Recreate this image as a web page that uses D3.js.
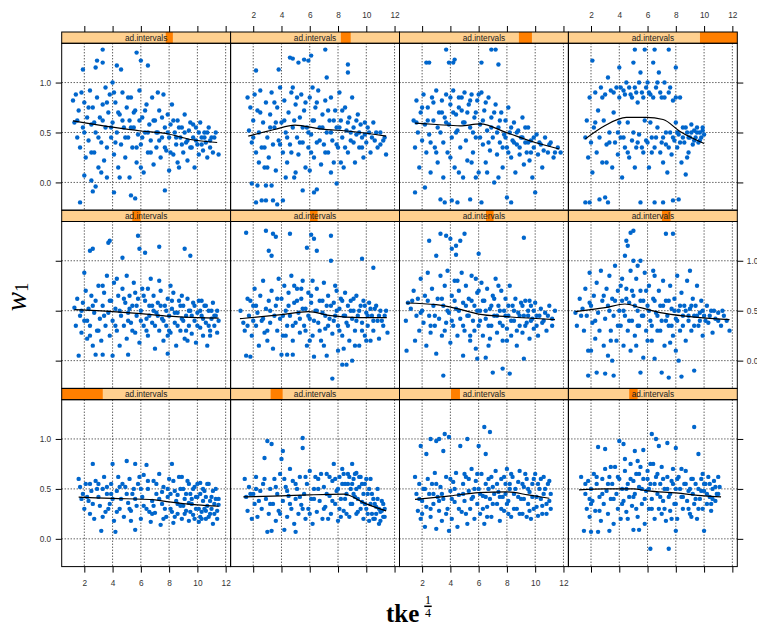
<!DOCTYPE html>
<html>
<head>
<meta charset="utf-8">
<script src="https://cdnjs.cloudflare.com/ajax/libs/d3/7.8.5/d3.min.js"></script>
<style>
body {margin: 0; background: #fff;}
.tick text {font-family: "Liberation Sans", Arial, sans-serif; font-size: 8.3px; fill: #333;}
.tick line {stroke: #000;}
</style>
</head>
<body>
<svg id="chart" width="757" height="630"></svg>
<script>
// lattice order: panel 1 is bottom-left, panel 12 is top-right
var levels = [[0,0.243],[0.237,0.308],[0.305,0.358],[0.36,0.41],
              [0.418,0.468],[0.47,0.515],[0.512,0.557],[0.554,0.605],
              [0.616,0.658],[0.653,0.711],[0.707,0.784],[0.779,1.0]];

var xTicks = [2, 4, 6, 8, 10, 12];
var yTicks = [0, 0.5, 1.0];

// scatter points per panel (p = spread, q = dense core)
var p1 = [[1.6,0.6],[1.7,0.52],[1.9,0.45],[2.0,0.3],[2.1,0.55],[2.3,0.38],[2.4,0.25],[2.5,0.48],[2.6,0.75],[2.7,0.2],[2.8,0.58],[3.0,0.42],[3.1,0.33],[3.2,0.08],[3.3,0.5],[3.4,0.62],[3.5,0.27],[3.6,0.45],[3.8,0.35],[3.9,0.55],[4.0,0.75],[4.1,0.18],[4.2,0.07],[4.3,0.48],[4.4,0.62],[4.5,0.3],[4.6,0.4],[4.8,0.22],[4.9,0.52],[5.0,0.78],[5.1,0.36],[5.2,0.6],[5.3,0.28],[5.4,0.45],[5.6,0.09],[5.6,0.75],[5.7,0.33],[5.8,0.55],[6.0,0.2],[6.1,0.42],[6.2,0.64],[6.4,0.74],[6.4,0.3],[6.5,0.5],[6.7,0.17],[6.8,0.38],[6.9,0.58],[7.0,0.26],[7.1,0.45],[7.3,0.65],[7.4,0.14],[7.5,0.35],[7.6,0.52],[7.8,0.22],[7.9,0.42],[8.0,0.6],[8.1,0.3],[8.2,0.75],[8.3,0.16],[8.4,0.48],[8.5,0.38],[8.6,0.25],[8.7,0.62],[8.8,0.33],[8.9,0.2],[9.0,0.5],[9.1,0.4],[9.2,0.28],[9.3,0.58],[9.4,0.18],[9.5,0.45],[9.6,0.35],[9.7,0.24],[9.8,0.52],[9.9,0.3],[10.0,0.42],[10.1,0.17],[10.2,0.56],[10.3,0.27],[10.4,0.38],[10.5,0.48],[10.6,0.2],[10.7,0.33],[10.8,0.55],[10.9,0.25],[11.0,0.42],[11.1,0.15],[11.2,0.35],[11.3,0.5],[11.4,0.28],[11.5,0.4],[10.2,0.22],[9.4,0.36],[8.6,0.44],[7.7,0.3],[6.6,0.27],[5.5,0.5],[3.7,0.3],[2.9,0.5]];
var q1 = [[2.2,0.42],[2.6,0.35],[3.0,0.55],[3.3,0.22],[3.6,0.52],[4.0,0.4],[4.3,0.27],[4.7,0.55],[5.0,0.45],[5.3,0.18],[5.6,0.4],[5.9,0.62],[6.2,0.33],[6.5,0.58],[6.8,0.25],[7.1,0.55],[7.3,0.4],[7.6,0.2],[7.9,0.5],[8.1,0.45],[8.3,0.58],[8.4,0.22],[8.6,0.35],[8.8,0.5],[8.9,0.62],[9.1,0.25],[9.2,0.45],[9.4,0.55],[9.5,0.27],[9.6,0.4],[9.8,0.2],[9.9,0.42],[10.0,0.55],[10.1,0.3],[10.2,0.45],[10.3,0.2],[10.4,0.5],[10.5,0.3],[10.6,0.42],[10.7,0.55],[10.8,0.22],[10.9,0.38],[11.0,0.3],[11.1,0.48],[11.2,0.25],[11.3,0.4],[11.4,0.2],[11.5,0.34],[10.6,0.28],[9.7,0.5],[9.0,0.33],[8.2,0.27],[7.5,0.47],[6.9,0.33],[6.0,0.5],[5.2,0.3],[4.5,0.52],[3.9,0.45],[2.4,0.55],[1.8,0.4]];
var p2 = [[1.4,0.6],[1.5,0.42],[1.6,0.28],[1.7,0.52],[1.9,0.2],[2.0,0.45],[2.1,0.35],[2.2,0.62],[2.3,0.22],[2.5,0.48],[2.6,0.3],[2.7,0.55],[2.8,0.81],[2.9,0.4],[3.0,0.98],[3.0,0.07],[3.1,0.25],[3.2,0.5],[3.3,0.95],[3.3,0.08],[3.4,0.35],[3.5,0.6],[3.6,0.18],[3.7,0.45],[3.8,0.28],[3.9,0.65],[4.0,0.8],[4.1,0.88],[4.1,0.38],[4.2,0.09],[4.3,0.52],[4.4,0.22],[4.5,0.43],[4.6,0.7],[4.7,0.3],[4.8,0.58],[4.9,0.15],[5.0,0.07],[5.0,0.4],[5.1,0.5],[5.2,0.25],[5.3,0.62],[5.4,0.34],[5.5,1.01],[5.5,0.91],[5.6,0.45],[5.7,0.2],[5.8,0.55],[5.9,0.3],[6.0,0.68],[6.1,0.4],[6.2,0.15],[6.3,0.5],[6.5,0.27],[6.6,0.6],[6.7,0.38],[6.9,0.2],[7.0,0.52],[7.1,0.32],[7.2,0.65],[7.4,0.43],[7.5,0.25],[7.6,0.58],[7.7,0.75],[7.8,0.35],[7.9,0.48],[8.0,0.18],[8.1,0.62],[8.2,0.4],[8.3,0.7],[8.4,0.28],[8.5,0.55],[8.6,0.45],[8.7,0.65],[8.8,0.22],[8.9,0.5],[9.0,0.75],[9.0,0.35],[9.1,0.6],[9.2,0.42],[9.3,0.66],[9.4,0.27],[9.5,0.52],[9.6,0.62],[9.7,0.37],[9.8,0.2],[9.9,0.55],[10.0,0.3],[10.1,0.45],[10.2,0.18],[10.3,0.6],[10.4,0.25],[10.5,0.4],[10.6,0.2],[10.7,0.32],[10.8,0.5],[10.9,0.15],[11.0,0.27],[11.1,0.38],[11.2,0.22],[11.3,0.3]];
var q2 = [[1.8,0.45],[2.4,0.38],[2.8,0.6],[3.2,0.35],[3.6,0.52],[3.9,0.25],[4.2,0.6],[4.6,0.35],[5.0,0.55],[5.3,0.42],[5.7,0.62],[6.0,0.25],[6.3,0.4],[6.6,0.5],[6.8,0.65],[7.0,0.3],[7.2,0.45],[7.4,0.62],[7.6,0.38],[7.8,0.6],[8.0,0.5],[8.1,0.3],[8.3,0.55],[8.4,0.65],[8.5,0.4],[8.6,0.25],[8.7,0.55],[8.8,0.62],[8.9,0.35],[9.0,0.55],[9.1,0.45],[9.2,0.65],[9.3,0.5],[9.4,0.4],[9.5,0.62],[9.6,0.3],[9.7,0.55],[9.8,0.45],[9.9,0.35],[10.0,0.6],[10.1,0.25],[10.2,0.5],[10.3,0.35],[10.4,0.45],[10.5,0.2],[10.6,0.35],[10.7,0.25],[10.8,0.4],[10.9,0.3],[11.0,0.18],[11.1,0.28],[11.2,0.35],[11.3,0.22],[9.3,0.25],[8.2,0.22],[7.3,0.2],[6.4,0.62],[5.5,0.3],[4.4,0.48],[2.2,0.5]];
var p3 = [[1.5,0.62],[1.6,0.45],[1.7,0.28],[1.8,0.55],[1.9,0.93],[1.9,0.2],[2.0,0.38],[2.1,0.5],[2.2,0.12],[2.3,0.85],[2.3,0.32],[2.4,0.6],[2.5,0.45],[2.6,1.0],[2.6,0.22],[2.7,0.55],[2.8,0.35],[2.9,0.66],[3.0,0.98],[3.0,0.1],[3.1,0.42],[3.2,1.0],[3.2,0.28],[3.3,0.52],[3.4,0.18],[3.5,0.88],[3.5,0.4],[3.6,1.05],[3.7,0.62],[3.8,0.3],[3.9,1.02],[3.9,0.08],[4.0,0.48],[4.1,0.2],[4.2,0.57],[4.3,0.37],[4.4,0.66],[4.5,0.12],[4.6,0.44],[4.7,0.93],[4.8,0.27],[4.9,0.55],[5.0,0.38],[5.1,0.62],[5.2,1.0],[5.2,0.15],[5.3,0.48],[5.4,0.3],[5.5,0.7],[5.6,0.42],[5.7,0.2],[5.8,0.58],[5.9,0.35],[6.0,0.93],[6.0,0.5],[6.1,0.25],[6.2,0.65],[6.3,0.43],[6.4,1.12],[6.4,0.15],[6.5,0.85],[6.5,0.55],[6.6,0.32],[6.7,0.6],[6.8,1.07],[6.8,0.4],[6.9,0.22],[7.0,0.52],[7.2,0.68],[7.3,0.35],[7.4,0.47],[7.5,0.18],[7.6,0.6],[7.7,0.42],[7.8,0.28],[7.9,0.55],[8.0,0.7],[8.1,0.38],[8.2,0.5],[8.3,0.22],[8.4,0.62],[8.5,0.45],[8.7,0.3],[8.8,0.57],[8.9,0.68],[9.0,0.4],[9.1,0.25],[9.2,0.52],[9.4,0.6],[9.5,0.35],[9.6,0.47],[9.7,0.2],[9.8,0.55],[9.9,0.3],[10.0,0.65],[10.1,0.42],[10.2,0.23],[10.3,0.5],[10.4,0.6],[10.5,0.33],[10.6,0.45],[10.8,0.25],[10.9,0.55],[11.0,0.38],[11.1,0.45]];
var q3 = [[1.8,0.4],[2.2,0.5],[2.6,0.3],[3.0,0.55],[3.4,0.45],[3.7,0.25],[4.0,0.6],[4.3,0.5],[4.6,0.3],[4.9,0.45],[5.1,0.25],[5.3,0.6],[5.5,0.4],[5.7,0.5],[5.9,0.65],[6.1,0.45],[6.3,0.3],[6.5,0.42],[6.7,0.5],[6.9,0.62],[7.0,0.35],[7.1,0.45],[7.3,0.55],[7.5,0.42],[7.6,0.3],[7.8,0.62],[7.9,0.45],[8.0,0.35],[8.2,0.55],[8.3,0.65],[8.5,0.3],[8.6,0.5],[8.8,0.42],[8.9,0.25],[9.1,0.55],[9.2,0.4],[9.3,0.65],[9.5,0.5],[9.6,0.28],[9.8,0.42],[9.9,0.6],[10.1,0.32],[10.2,0.55],[10.4,0.4],[10.5,0.25],[10.7,0.5],[10.8,0.35],[11.0,0.58],[11.1,0.3],[10.6,0.62],[9.4,0.22],[8.1,0.25],[6.6,0.22],[5.0,0.65],[4.1,0.4],[3.2,0.38],[2.0,0.25],[2.8,0.45]];
var p4 = [[1.3,0.62],[1.5,0.08],[1.6,0.45],[1.7,0.3],[1.8,0.58],[1.9,0.22],[2.0,0.07],[2.0,0.5],[2.1,0.38],[2.2,0.65],[2.3,0.28],[2.4,0.55],[2.5,0.92],[2.5,0.07],[2.6,0.42],[2.7,0.18],[2.8,0.6],[2.9,0.35],[3.0,0.9],[3.0,0.7],[3.1,0.48],[3.2,0.25],[3.3,0.08],[3.3,0.62],[3.4,0.4],[3.5,0.55],[3.6,0.15],[3.7,0.72],[3.8,0.45],[3.9,0.3],[4.0,0.98],[4.0,0.6],[4.1,0.2],[4.2,0.5],[4.3,0.95],[4.3,0.38],[4.4,0.68],[4.5,0.27],[4.6,0.55],[4.7,0.42],[4.8,0.75],[4.9,0.33],[5.0,0.09],[5.0,0.58],[5.1,0.88],[5.1,0.45],[5.2,0.65],[5.3,0.22],[5.4,0.09],[5.4,0.52],[5.5,0.72],[5.6,0.35],[5.7,0.89],[5.7,0.6],[5.8,0.15],[5.9,0.48],[6.0,0.68],[6.1,0.3],[6.2,-0.1],[6.2,0.55],[6.3,1.05],[6.3,0.4],[6.4,0.75],[6.5,0.2],[6.6,1.0],[6.6,0.62],[6.7,0.45],[6.8,0.93],[6.8,0.3],[6.9,0.55],[7.0,0.72],[7.1,0.38],[7.2,0.5],[7.3,0.18],[7.4,0.96],[7.4,0.62],[7.5,-0.1],[7.5,0.42],[7.6,0.28],[7.7,0.58],[7.8,0.7],[7.9,0.35],[8.0,0.91],[8.0,0.08],[8.0,0.5],[8.1,0.2],[8.2,0.62],[8.4,0.42],[8.5,0.3],[8.6,0.55],[8.7,0.68],[8.8,0.38],[8.9,0.48],[9.0,0.25],[9.1,0.6],[9.2,0.45],[9.3,1.12],[9.3,0.35],[9.4,0.55],[9.5,0.2],[9.6,0.85],[9.6,0.5],[9.7,0.4],[9.8,0.6],[9.9,0.3],[10.0,0.08],[10.0,0.48],[10.1,0.55],[10.2,0.35],[10.3,0.62],[10.4,0.42],[10.5,0.28],[10.6,0.5],[10.7,0.58],[10.8,0.38],[10.9,0.45],[11.0,0.62],[11.1,0.52]];
var q4 = [[1.6,0.55],[2.0,0.35],[2.4,0.62],[2.8,0.45],[3.2,0.55],[3.6,0.4],[3.9,0.62],[4.2,0.35],[4.5,0.5],[4.8,0.6],[5.0,0.42],[5.2,0.3],[5.4,0.65],[5.6,0.5],[5.8,0.4],[6.0,0.6],[6.1,0.5],[6.3,0.3],[6.5,0.55],[6.7,0.65],[6.9,0.42],[7.1,0.6],[7.2,0.3],[7.4,0.5],[7.6,0.45],[7.8,0.55],[8.0,0.35],[8.1,0.6],[8.3,0.5],[8.5,0.42],[8.7,0.55],[8.9,0.3],[9.0,0.5],[9.2,0.6],[9.4,0.4],[9.6,0.3],[9.8,0.48],[10.0,0.55],[10.2,0.45],[10.4,0.55],[10.6,0.4],[10.8,0.52],[11.0,0.45],[10.5,0.35],[9.9,0.65],[8.4,0.7],[7.0,0.25],[6.2,0.75],[5.3,0.78],[4.4,0.8],[3.4,0.72],[2.6,0.28],[1.9,0.4],[4.6,0.2],[7.7,0.2],[9.1,0.22]];
var p5 = [[1.3,0.53],[1.4,0.35],[1.5,0.62],[1.6,0.05],[1.7,0.45],[1.8,0.28],[1.9,0.58],[2.0,0.88],[2.0,0.4],[2.1,0.7],[2.2,0.22],[2.3,0.52],[2.4,1.1],[2.4,0.35],[2.5,0.65],[2.6,1.12],[2.6,0.15],[2.7,0.48],[2.8,0.06],[2.8,0.6],[2.9,0.3],[3.0,0.75],[3.1,0.42],[3.2,0.2],[3.3,0.06],[3.3,0.55],[3.4,0.68],[3.5,0.35],[3.6,0.85],[3.7,1.18],[3.7,0.48],[3.8,1.2],[3.8,0.25],[3.9,0.6],[4.0,0.05],[4.0,0.4],[4.1,0.78],[4.2,0.52],[4.3,0.3],[4.4,0.65],[4.5,0.15],[4.6,0.45],[4.7,1.03],[4.7,0.72],[4.8,0.35],[4.9,0.58],[5.0,0.85],[5.0,0.22],[5.1,0.06],[5.1,0.48],[5.2,0.65],[5.3,0.38],[5.4,0.55],[5.5,0.78],[5.6,0.28],[5.7,0.45],[5.8,1.25],[5.8,0.62],[5.9,1.12],[5.9,0.18],[6.0,0.5],[6.1,0.72],[6.2,0.35],[6.3,1.08],[6.3,0.6],[6.4,0.42],[6.5,0.25],[6.6,0.55],[6.7,0.82],[6.8,0.38],[6.9,0.65],[7.0,0.12],[7.1,0.48],[7.2,0.58],[7.3,1.14],[7.3,0.3],[7.4,0.7],[7.5,0.42],[7.6,0.2],[7.7,0.55],[7.8,0.35],[7.9,0.07],[7.9,0.62],[8.0,0.45],[8.1,0.28],[8.2,0.52],[8.3,0.68],[8.4,0.38],[8.5,0.15],[8.6,0.48],[8.7,0.6],[8.8,0.3],[8.9,0.42],[9.0,0.55],[9.1,1.12],[9.1,0.22],[9.2,0.45],[9.3,0.62],[9.4,0.35],[9.5,1.05],[9.5,0.5],[9.6,0.27],[9.7,0.58],[9.8,0.4],[9.9,0.18],[10.0,0.48],[10.1,0.6],[10.2,0.33],[10.3,0.45],[10.4,0.25],[10.5,0.55],[10.6,0.38],[10.7,0.15],[10.8,0.5],[10.9,0.3],[11.0,0.42],[11.1,0.58],[11.2,0.35],[11.3,0.45],[11.4,0.28],[11.5,0.4]];
var q5 = [[1.8,0.5],[2.2,0.4],[2.6,0.55],[3.0,0.3],[3.4,0.45],[3.8,0.6],[4.2,0.35],[4.5,0.5],[4.8,0.62],[5.1,0.4],[5.4,0.3],[5.7,0.55],[6.0,0.4],[6.2,0.65],[6.4,0.3],[6.6,0.45],[6.8,0.55],[7.0,0.35],[7.2,0.45],[7.4,0.55],[7.6,0.4],[7.8,0.5],[8.0,0.3],[8.2,0.6],[8.4,0.48],[8.6,0.35],[8.8,0.55],[9.0,0.4],[9.2,0.3],[9.4,0.5],[9.6,0.45],[9.8,0.55],[10.0,0.35],[10.2,0.5],[10.4,0.42],[10.6,0.55],[10.8,0.35],[11.0,0.5],[11.2,0.45],[11.4,0.5],[10.3,0.6],[9.3,0.2],[8.1,0.75],[7.3,0.8],[6.5,0.72],[5.6,0.68],[4.3,0.82],[3.3,0.75],[2.4,0.25],[7.9,0.25],[8.9,0.65],[10.9,0.25],[6.9,0.5],[5.2,0.52]];
var p6 = [[1.1,0.5],[1.3,0.38],[1.4,0.3],[1.5,1.28],[1.5,0.05],[1.6,0.62],[1.7,0.45],[1.8,0.04],[1.8,0.6],[1.9,0.25],[2.0,0.55],[2.1,0.72],[2.2,0.35],[2.3,0.48],[2.4,0.15],[2.5,0.65],[2.6,0.4],[2.7,0.8],[2.8,0.28],[2.9,1.3],[2.9,0.52],[3.0,0.2],[3.1,1.1],[3.1,0.6],[3.2,0.38],[3.3,1.05],[3.3,0.7],[3.4,1.27],[3.4,0.12],[3.5,0.45],[3.6,1.24],[3.6,0.55],[3.7,0.3],[3.8,0.82],[3.9,0.42],[4.0,0.06],[4.0,0.62],[4.1,0.25],[4.2,0.75],[4.3,0.5],[4.4,0.06],[4.4,0.35],[4.5,0.68],[4.6,1.27],[4.6,0.45],[4.7,0.85],[4.8,0.06],[4.8,0.2],[4.9,0.58],[5.0,0.38],[5.1,0.72],[5.2,0.48],[5.3,0.28],[5.4,0.62],[5.5,0.8],[5.6,0.35],[5.7,0.52],[5.8,1.13],[5.8,0.15],[5.9,0.68],[6.0,0.42],[6.1,1.26],[6.1,0.58],[6.2,0.25],[6.3,1.22],[6.3,0.04],[6.4,0.5],[6.5,1.1],[6.5,0.72],[6.6,0.38],[6.7,0.6],[6.8,0.2],[6.9,0.48],[7.0,0.78],[7.1,0.32],[7.2,0.05],[7.2,0.55],[7.3,0.65],[7.4,0.42],[7.5,1.25],[7.5,1.0],[7.6,-0.18],[7.6,0.27],[7.7,0.58],[7.8,0.45],[7.9,0.7],[8.0,0.1],[8.0,0.35],[8.1,0.52],[8.2,0.62],[8.3,-0.04],[8.3,0.25],[8.4,0.45],[8.5,0.68],[8.6,-0.04],[8.6,0.38],[8.7,0.55],[8.8,0.2],[8.9,0.6],[9.0,0.0],[9.0,0.42],[9.1,0.5],[9.2,0.3],[9.3,0.65],[9.4,0.45],[9.5,0.15],[9.6,0.55],[9.7,1.02],[9.7,0.38],[9.8,0.6],[9.9,0.25],[10.0,0.48],[10.1,0.35],[10.2,0.58],[10.3,0.2],[10.4,0.45],[10.5,0.93],[10.5,0.3],[10.6,0.52],[10.8,0.4],[10.9,0.22],[11.0,0.5],[11.2,0.35],[11.3,0.45],[11.5,0.28]];
var q6 = [[1.6,0.35],[2.2,0.55],[2.7,0.42],[3.2,0.5],[3.7,0.62],[4.1,0.45],[4.5,0.55],[4.8,0.35],[5.1,0.6],[5.3,0.42],[5.5,0.52],[5.7,0.3],[5.9,0.45],[6.1,0.65],[6.3,0.4],[6.5,0.5],[6.7,0.3],[6.9,0.6],[7.1,0.45],[7.3,0.35],[7.5,0.55],[7.7,0.4],[7.9,0.5],[8.1,0.3],[8.3,0.6],[8.5,0.45],[8.7,0.35],[8.9,0.5],[9.1,0.62],[9.3,0.4],[9.5,0.5],[9.7,0.3],[9.9,0.55],[10.1,0.45],[10.3,0.52],[10.5,0.4],[10.7,0.55],[10.9,0.45],[11.1,0.4],[11.4,0.5],[10.0,0.2],[9.2,0.15],[8.4,0.12],[7.0,0.15],[6.0,0.2],[5.4,0.72],[4.9,0.75],[6.2,0.8],[7.8,0.75],[3.0,0.3],[2.0,0.4],[4.3,0.25]];
var p7 = [[0.85,0.4],[0.9,0.1],[1.0,0.58],[1.2,0.52],[1.4,0.7],[1.5,0.2],[1.6,0.45],[1.7,0.62],[1.8,0.3],[1.9,0.82],[2.0,0.5],[2.1,0.38],[2.2,0.65],[2.3,0.15],[2.4,0.88],[2.5,1.2],[2.5,0.45],[2.6,0.28],[2.7,0.72],[2.8,0.55],[2.9,0.35],[3.0,1.05],[3.0,0.07],[3.1,0.62],[3.2,0.42],[3.3,1.27],[3.3,0.85],[3.4,0.25],[3.5,-0.15],[3.5,0.55],[3.6,0.75],[3.7,1.25],[3.7,0.38],[3.8,0.9],[3.9,0.48],[4.0,1.22],[4.0,0.18],[4.1,1.12],[4.1,0.65],[4.2,0.35],[4.3,0.8],[4.4,1.15],[4.4,1.06],[4.4,0.52],[4.5,0.25],[4.6,0.7],[4.7,1.2],[4.7,0.42],[4.8,0.88],[4.9,0.05],[4.9,0.58],[5.0,1.27],[5.0,0.3],[5.1,0.75],[5.2,0.45],[5.3,0.62],[5.4,0.2],[5.5,0.85],[5.6,0.4],[5.7,0.55],[5.8,0.12],[5.9,0.02],[5.9,0.68],[6.0,1.07],[6.0,0.35],[6.1,0.5],[6.2,0.78],[6.3,0.25],[6.4,0.6],[6.5,0.03],[6.5,0.42],[6.6,0.72],[6.7,0.15],[6.8,0.52],[6.9,0.35],[7.0,-0.12],[7.0,0.65],[7.1,0.45],[7.2,0.82],[7.3,0.28],[7.4,0.55],[7.5,0.38],[7.6,0.7],[7.7,-0.08],[7.7,0.2],[7.8,0.5],[7.9,0.62],[8.0,0.32],[8.1,0.45],[8.2,-0.13],[8.2,0.75],[8.3,0.25],[8.4,0.55],[8.5,0.4],[8.6,0.62],[8.7,0.15],[8.8,0.48],[8.9,0.35],[9.0,0.58],[9.1,0.28],[9.2,1.23],[9.2,0.02],[9.2,0.45],[9.3,0.6],[9.4,0.38],[9.5,0.5],[9.6,0.22],[9.7,0.55],[9.8,0.42],[9.9,0.32],[10.0,0.58],[10.1,0.45],[10.2,0.25],[10.4,0.52],[10.5,0.38],[10.7,0.48],[10.8,0.3],[11.0,0.55],[11.2,0.42],[11.4,0.5]];
var q7 = [[1.3,0.6],[1.9,0.48],[2.4,0.6],[2.9,0.45],[3.4,0.62],[3.8,0.5],[4.1,0.4],[4.3,0.6],[4.6,0.5],[4.9,0.35],[5.1,0.55],[5.3,0.45],[5.5,0.6],[5.7,0.3],[5.9,0.5],[6.1,0.4],[6.3,0.6],[6.5,0.5],[6.7,0.35],[6.9,0.55],[7.1,0.62],[7.3,0.45],[7.5,0.5],[7.7,0.35],[7.9,0.45],[8.1,0.55],[8.3,0.4],[8.5,0.5],[8.7,0.3],[8.9,0.45],[9.1,0.55],[9.3,0.35],[9.5,0.45],[9.7,0.4],[9.9,0.5],[10.1,0.35],[10.3,0.45],[10.6,0.4],[10.9,0.45],[11.2,0.35],[8.0,0.2],[6.8,0.22],[5.4,0.25],[4.5,0.8],[5.8,0.82],[7.4,0.75],[3.6,0.3],[2.6,0.35],[9.6,0.6],[6.0,0.7]];
var p8 = [[0.9,0.48],[1.0,0.35],[1.2,0.62],[1.4,0.52],[1.5,0.3],[1.6,0.72],[1.7,0.45],[1.8,-0.15],[1.8,0.1],[1.9,0.88],[2.0,0.1],[2.0,0.55],[2.1,0.38],[2.2,0.65],[2.3,0.22],[2.4,-0.12],[2.4,0.78],[2.5,0.48],[2.6,0.3],[2.7,0.9],[2.8,0.6],[2.9,0.15],[3.0,-0.13],[3.0,0.42],[3.1,0.72],[3.2,0.05],[3.2,0.55],[3.3,0.85],[3.4,0.3],[3.5,0.0],[3.5,0.62],[3.6,-0.15],[3.6,0.45],[3.7,0.95],[3.8,0.2],[3.9,0.7],[4.0,0.5],[4.1,0.35],[4.2,0.82],[4.2,0.6],[4.3,0.15],[4.4,1.05],[4.4,0.45],[4.5,1.2],[4.5,0.72],[4.6,1.15],[4.6,0.3],[4.7,0.58],[4.8,1.28],[4.8,0.9],[4.9,0.4],[5.0,1.3],[5.0,1.0],[5.0,0.65],[5.1,0.25],[5.2,0.82],[5.3,0.5],[5.4,0.35],[5.5,1.0],[5.5,-0.12],[5.5,0.7],[5.6,0.45],[5.7,0.03],[5.7,0.6],[5.8,0.88],[5.9,0.3],[6.0,0.55],[6.1,0.75],[6.2,0.4],[6.3,0.2],[6.4,0.62],[6.5,0.02],[6.5,0.85],[6.6,0.48],[6.7,0.3],[6.8,0.7],[6.9,0.55],[7.0,-0.12],[7.0,0.4],[7.1,0.8],[7.2,0.15],[7.3,1.27],[7.3,0.6],[7.4,0.45],[7.5,-0.17],[7.5,0.35],[7.6,0.75],[7.7,0.52],[7.8,1.27],[7.8,0.25],[7.9,0.62],[8.0,0.42],[8.1,0.85],[8.2,0.0],[8.2,0.5],[8.3,0.3],[8.4,-0.16],[8.4,0.68],[8.5,0.45],[8.6,0.55],[8.7,0.2],[8.8,0.8],[8.9,0.4],[9.0,0.9],[9.0,0.52],[9.1,0.3],[9.2,0.62],[9.3,-0.1],[9.3,0.45],[9.4,0.55],[9.5,0.75],[9.6,0.35],[9.7,0.48],[9.8,0.6],[9.9,0.25],[10.0,0.45],[10.2,0.55],[10.3,0.38],[10.5,0.5],[10.6,0.28],[10.8,0.42],[11.0,0.48],[11.2,0.35],[11.4,0.45],[11.6,0.4],[11.8,0.3]];
var q8 = [[1.3,0.45],[1.9,0.58],[2.3,0.4],[2.9,0.65],[3.3,0.5],[3.7,0.6],[3.9,0.35],[4.1,0.75],[4.3,0.5],[4.5,0.62],[4.7,0.4],[4.9,0.7],[5.1,0.55],[5.3,0.35],[5.5,0.6],[5.7,0.45],[5.9,0.7],[6.1,0.5],[6.3,0.35],[6.5,0.6],[6.7,0.45],[6.9,0.3],[7.1,0.55],[7.3,0.4],[7.5,0.6],[7.7,0.35],[7.9,0.5],[8.1,0.4],[8.3,0.55],[8.5,0.35],[8.7,0.5],[8.9,0.45],[9.1,0.55],[9.3,0.35],[9.5,0.45],[9.7,0.4],[9.9,0.5],[10.1,0.4],[10.4,0.45],[10.7,0.5],[11.0,0.4],[11.3,0.5],[5.2,0.15],[6.0,0.2],[7.6,0.18],[8.0,0.1],[4.8,0.1],[3.4,0.2],[6.4,0.9],[5.3,0.95]];
var p9 = [[1.2,0.82],[1.3,0.6],[1.4,0.88],[1.5,0.45],[1.6,0.72],[1.7,-0.2],[1.7,0.35],[1.8,0.9],[1.9,1.13],[1.9,0.55],[2.0,0.07],[2.0,0.8],[2.1,0.25],[2.2,0.65],[2.3,0.42],[2.4,0.92],[2.5,0.02],[2.5,0.58],[2.6,-0.09],[2.6,0.75],[2.7,0.3],[2.8,1.15],[2.8,-0.04],[2.8,0.5],[2.9,1.22],[2.9,0.85],[3.0,0.15],[3.1,0.65],[3.2,0.4],[3.3,1.33],[3.3,1.2],[3.3,0.78],[3.4,0.22],[3.5,0.95],[3.5,0.55],[3.6,0.05],[3.6,0.35],[3.7,0.7],[3.8,0.88],[3.9,0.45],[4.0,1.0],[4.0,0.6],[4.1,-0.1],[4.1,0.28],[4.2,0.8],[4.3,1.17],[4.3,0.5],[4.4,0.15],[4.5,0.68],[4.6,1.13],[4.6,0.38],[4.7,0.9],[4.8,0.55],[4.9,0.25],[5.0,0.75],[5.1,0.45],[5.2,0.05],[5.2,0.62],[5.3,-0.13],[5.3,0.85],[5.4,0.35],[5.5,0.55],[5.6,-0.16],[5.6,0.72],[5.7,1.3],[5.7,0.2],[5.8,0.48],[5.9,0.92],[6.0,1.22],[6.0,0.38],[6.1,0.65],[6.2,0.1],[6.3,0.5],[6.4,0.78],[6.5,1.17],[6.5,0.3],[6.6,0.58],[6.7,0.42],[6.8,0.85],[6.9,0.18],[7.0,0.62],[7.1,0.35],[7.2,0.5],[7.3,0.72],[7.4,0.25],[7.5,0.45],[7.6,0.88],[7.7,-0.08],[7.7,0.55],[7.8,0.32],[7.9,0.68],[8.0,0.12],[8.0,0.45],[8.1,0.58],[8.2,0.78],[8.3,0.28],[8.4,0.5],[8.5,0.38],[8.6,0.62],[8.7,0.15],[8.8,0.45],[8.9,0.55],[9.0,0.3],[9.1,0.68],[9.2,0.4],[9.3,0.22],[9.4,0.52],[9.5,0.6],[9.6,0.35],[9.7,0.45],[9.8,0.15],[9.9,0.55],[10.0,0.38],[10.1,0.28],[10.2,0.6],[10.3,0.45],[10.4,0.32],[10.5,0.5],[10.6,0.4],[10.7,0.25],[10.8,0.55],[10.9,0.35],[11.0,0.45],[11.1,0.3],[11.3,0.5],[11.5,0.28]];
var q9 = [[1.5,0.62],[2.0,0.5],[2.3,0.75],[2.7,0.6],[3.0,0.45],[3.3,0.62],[3.6,0.8],[3.9,0.55],[4.2,0.4],[4.4,0.7],[4.7,0.62],[4.9,0.45],[5.1,0.85],[5.3,0.55],[5.5,0.7],[5.7,0.35],[5.9,0.62],[6.1,0.45],[6.3,0.72],[6.5,0.5],[6.7,0.3],[6.9,0.62],[7.1,0.5],[7.3,0.42],[7.5,0.65],[7.7,0.35],[7.9,0.5],[8.1,0.3],[8.3,0.62],[8.5,0.45],[8.7,0.55],[8.9,0.38],[9.1,0.5],[9.3,0.42],[9.5,0.35],[9.7,0.58],[9.9,0.42],[10.1,0.5],[10.3,0.38],[10.5,0.45],[10.7,0.5],[10.9,0.42],[11.2,0.45],[6.0,0.15],[4.5,0.05],[3.2,0.1],[7.2,0.9],[4.1,0.9],[8.6,0.2],[2.5,0.3]];
var p10 = [[1.6,0.85],[1.7,0.52],[1.8,0.75],[1.9,-0.01],[1.9,0.4],[2.0,0.62],[2.1,0.88],[2.2,1.12],[2.2,-0.2],[2.2,0.3],[2.3,-0.03],[2.3,0.72],[2.4,0.5],[2.5,0.92],[2.6,-0.18],[2.6,0.35],[2.7,0.6],[2.8,0.15],[2.9,-0.18],[2.9,-0.03],[2.9,0.8],[3.0,0.45],[3.1,0.25],[3.2,0.68],[3.3,-0.03],[3.3,0.9],[3.4,-0.18],[3.4,0.38],[3.5,0.55],[3.6,0.12],[3.7,-0.22],[3.7,0.75],[3.8,1.13],[3.8,0.42],[3.9,0.95],[4.0,0.6],[4.1,-0.18],[4.1,0.3],[4.2,0.82],[4.3,0.5],[4.4,0.2],[4.5,0.7],[4.6,1.25],[4.6,0.38],[4.7,0.9],[4.8,1.24],[4.8,0.55],[4.9,0.05],[5.0,0.78],[5.1,0.45],[5.2,1.2],[5.2,0.28],[5.3,0.65],[5.4,0.88],[5.5,-0.08],[5.5,0.4],[5.6,1.23],[5.6,0.72],[5.7,0.15],[5.8,0.55],[5.9,1.22],[5.9,0.35],[6.0,0.85],[6.1,1.27],[6.1,0.48],[6.2,0.62],[6.3,-0.1],[6.3,0.25],[6.4,0.75],[6.5,-0.07],[6.5,0.4],[6.6,0.92],[6.7,0.55],[6.8,0.18],[6.9,0.68],[7.0,0.38],[7.1,1.33],[7.1,0.82],[7.2,1.05],[7.2,0.5],[7.3,0.3],[7.4,0.62],[7.5,0.85],[7.6,0.42],[7.7,0.2],[7.8,0.72],[7.9,-0.01],[7.9,0.55],[8.0,0.35],[8.1,0.9],[8.2,0.62],[8.3,0.45],[8.4,0.15],[8.5,0.75],[8.6,0.52],[8.7,1.18],[8.7,1.1],[8.7,0.3],[8.8,0.65],[8.9,0.42],[9.0,0.85],[9.1,0.55],[9.2,0.2],[9.3,0.48],[9.4,0.68],[9.5,0.35],[9.6,0.58],[9.7,0.45],[9.8,0.25],[9.9,0.6],[10.0,0.4],[10.2,0.5],[10.3,0.3],[10.5,0.6],[10.6,0.42],[10.8,0.35],[11.0,0.5],[11.2,0.42],[11.4,0.28]];
var q10 = [[2.0,0.45],[2.5,0.7],[2.8,0.35],[3.2,0.55],[3.5,0.8],[3.9,0.38],[4.2,0.62],[4.4,0.45],[4.7,0.3],[4.9,0.62],[5.1,0.85],[5.3,0.4],[5.5,0.55],[5.7,0.8],[5.9,0.5],[6.1,0.3],[6.3,0.62],[6.5,0.8],[6.7,0.42],[6.9,0.55],[7.1,0.3],[7.3,0.72],[7.5,0.5],[7.7,0.62],[7.9,0.38],[8.1,0.55],[8.3,0.72],[8.5,0.35],[8.7,0.6],[8.9,0.5],[9.1,0.4],[9.3,0.62],[9.5,0.5],[9.7,0.35],[9.9,0.48],[10.1,0.55],[10.4,0.45],[10.7,0.5],[11.0,0.38],[11.3,0.45],[6.0,0.12],[5.0,0.1],[4.3,0.05],[3.0,0.15],[7.5,0.1],[8.2,0.2],[6.2,0.95],[4.8,0.95],[3.6,0.6],[2.4,0.2]];
var p11 = [[1.4,0.62],[1.5,-0.1],[1.5,0.35],[1.6,0.82],[1.7,0.5],[1.8,0.15],[1.9,0.7],[2.0,0.42],[2.1,0.88],[2.2,-0.05],[2.2,0.58],[2.3,1.2],[2.3,0.3],[2.4,0.75],[2.5,1.2],[2.5,0.48],[2.6,0.1],[2.7,0.85],[2.8,0.62],[2.9,0.35],[3.0,0.92],[3.1,0.2],[3.2,0.7],[3.3,-0.17],[3.3,0.5],[3.4,0.82],[3.5,0.05],[3.5,0.4],[3.6,-0.2],[3.6,0.65],[3.7,1.33],[3.7,0.88],[3.8,0.3],[3.9,1.2],[3.9,0.58],[4.0,0.78],[4.1,-0.18],[4.1,0.45],[4.2,1.2],[4.2,0.92],[4.3,1.23],[4.3,0.15],[4.4,0.68],[4.5,-0.2],[4.5,0.52],[4.6,0.85],[4.7,0.35],[4.8,0.72],[4.9,0.05],[4.9,0.6],[5.0,0.9],[5.1,0.42],[5.2,0.22],[5.3,0.78],[5.4,-0.17],[5.4,0.55],[5.5,0.88],[5.6,0.3],[5.7,0.65],[5.8,0.45],[5.9,0.82],[6.0,0.1],[6.1,0.58],[6.2,1.2],[6.2,-0.2],[6.2,0.9],[6.3,0.38],[6.4,0.72],[6.5,0.2],[6.6,0.52],[6.7,0.85],[6.8,0.32],[6.9,1.33],[6.9,0.65],[7.0,0.45],[7.1,0.0],[7.2,1.33],[7.2,0.78],[7.3,0.28],[7.4,1.18],[7.4,0.55],[7.5,0.4],[7.6,0.7],[7.7,0.15],[7.8,0.48],[7.9,0.62],[8.0,-0.15],[8.0,0.35],[8.1,0.75],[8.2,0.5],[8.3,-0.2],[8.3,0.25],[8.4,0.42],[8.5,0.6],[8.6,0.1],[8.7,0.38],[8.8,0.52],[8.9,0.28],[9.0,0.45],[9.1,0.65],[9.2,0.18],[9.3,0.4],[9.4,0.3],[9.5,0.55],[9.6,0.22],[9.7,0.42],[9.8,0.05],[9.9,0.35],[10.0,-0.1],[10.1,0.48],[10.2,0.28],[10.4,0.38],[10.5,0.15],[10.7,0.45],[10.9,0.3],[11.1,0.4],[11.3,0.25],[11.6,0.35],[11.8,0.3]];
var q11 = [[1.6,0.6],[2.0,0.75],[2.4,0.62],[2.8,0.8],[3.1,0.55],[3.4,0.7],[3.7,0.6],[4.0,0.85],[4.2,0.7],[4.4,0.5],[4.6,0.75],[4.8,0.85],[5.0,0.6],[5.2,0.7],[5.4,0.82],[5.6,0.5],[5.8,0.7],[6.0,0.88],[6.1,0.45],[6.3,0.62],[6.5,0.8],[6.7,0.4],[6.9,0.55],[7.1,0.7],[7.3,0.5],[7.5,0.62],[7.7,0.35],[7.9,0.45],[8.1,0.3],[8.3,0.55],[8.5,0.4],[8.7,0.5],[8.9,0.35],[9.1,0.45],[9.3,0.55],[9.5,0.4],[9.7,0.3],[9.9,0.45],[10.3,0.4],[10.6,0.32],[11.0,0.38],[11.4,0.3],[4.6,0.1],[5.8,0.05],[6.6,0.1],[7.4,0.05],[3.0,0.3],[4.0,0.25],[5.5,0.2],[2.6,0.4]];
var p12 = [[1.6,0.45],[1.6,-0.2],[1.7,0.62],[1.8,0.25],[1.9,-0.2],[1.9,0.85],[2.0,0.4],[2.1,1.22],[2.1,0.1],[2.2,0.55],[2.3,0.9],[2.4,0.3],[2.5,0.72],[2.6,-0.17],[2.6,0.45],[2.7,0.95],[2.8,0.2],[2.9,0.62],[3.0,-0.15],[3.0,0.88],[3.1,0.38],[3.2,-0.2],[3.2,1.05],[3.3,0.5],[3.4,0.92],[3.5,0.15],[3.6,0.7],[3.7,0.4],[3.8,0.95],[3.9,0.28],[4.0,1.15],[4.0,0.85],[4.1,0.45],[4.2,0.05],[4.3,0.92],[4.4,0.35],[4.5,1.0],[4.6,0.6],[4.7,0.25],[4.8,0.88],[4.9,0.42],[5.0,1.2],[5.1,1.33],[5.1,0.95],[5.2,0.35],[5.3,0.8],[5.4,0.48],[5.5,-0.2],[5.5,1.1],[5.6,0.9],[5.7,0.3],[5.8,1.33],[5.8,0.62],[5.9,0.42],[6.0,1.0],[6.1,0.15],[6.2,0.88],[6.3,0.45],[6.4,1.2],[6.5,1.33],[6.5,-0.2],[6.5,0.35],[6.6,0.95],[6.7,0.55],[6.8,1.1],[6.9,0.3],[7.0,0.85],[7.1,-0.2],[7.1,0.45],[7.2,1.0],[7.3,0.38],[7.4,0.1],[7.5,1.33],[7.5,0.9],[7.6,0.5],[7.7,0.28],[7.8,-0.18],[7.8,0.82],[7.9,0.42],[8.0,1.15],[8.0,0.6],[8.1,0.35],[8.2,-0.17],[8.2,0.48],[8.3,0.85],[8.4,0.2],[8.5,0.55],[8.6,0.4],[8.7,0.08],[8.8,0.5],[8.9,0.3],[9.0,0.45],[9.1,0.58],[9.2,0.38],[9.3,0.52],[9.4,0.45],[9.5,0.55],[9.6,0.4],[9.7,0.5],[9.8,0.45],[9.9,0.52],[10.0,0.48]];
var q12 = [[2.3,0.6],[2.8,0.85],[3.3,0.4],[3.6,0.9],[3.9,0.5],[4.1,0.95],[4.3,0.45],[4.4,0.88],[4.6,0.3],[4.7,0.95],[4.9,0.85],[5.0,0.5],[5.2,0.9],[5.3,0.4],[5.4,1.0],[5.6,0.35],[5.7,0.85],[5.9,0.95],[6.0,0.4],[6.1,0.9],[6.3,0.3],[6.4,0.85],[6.6,0.45],[6.7,1.0],[6.9,0.9],[7.0,0.4],[7.2,0.85],[7.3,0.5],[7.5,0.35],[7.6,0.95],[7.8,0.45],[8.0,0.85],[8.1,0.5],[8.3,0.4],[8.5,0.45],[8.7,0.55],[8.9,0.45],[9.1,0.5],[9.3,0.42],[9.5,0.5],[9.7,0.42],[9.9,0.55],[6.2,0.6],[5.1,0.15],[7.1,0.2],[4.0,0.6],[3.1,0.2],[8.8,0.25]];

// loess curves
var s1 = [[1.6,0.417],[4,0.405],[7,0.39],[8,0.37],[10,0.34],[11.5,0.326]];
var s2 = [[1.3,0.42],[4,0.43],[6,0.44],[8.4,0.447],[10,0.35],[11.4,0.28]];
var s3 = [[1.5,0.396],[4,0.43],[6,0.463],[8,0.47],[9.5,0.44],[11,0.406]];
var s4 = [[1.15,0.49],[3,0.5],[5,0.5],[6,0.48],[8,0.46],[10,0.43],[11.2,0.42]];
var s5 = [[1.3,0.51],[4,0.49],[6,0.47],[8,0.445],[10,0.43],[11.5,0.426]];
var s6 = [[1.06,0.42],[4,0.46],[5.9,0.49],[7.5,0.45],[9.5,0.43],[11.45,0.43]];
var s7 = [[0.85,0.577],[3,0.56],[4.5,0.52],[6,0.466],[8,0.44],[11.4,0.41]];
var s8 = [[0.9,0.49],[3,0.53],[4.4,0.567],[5.5,0.53],[6.9,0.48],[9,0.44],[11.8,0.41]];
var s9 = [[1.2,0.617],[4,0.553],[6,0.515],[7.8,0.49],[9.5,0.43],[11.4,0.40]];
var s10 = [[1.65,0.463],[3.5,0.53],[4.95,0.574],[6.7,0.537],[9,0.51],[11.4,0.463]];
var s11 = [[1.5,0.594],[3,0.58],[4.7,0.567],[6.1,0.587],[8,0.497],[10,0.4],[11.7,0.335]];
var s12 = [[1.6,0.436],[3,0.57],[4.5,0.651],[5.9,0.651],[7.1,0.63],[8.3,0.51],[10,0.39]];

var panels = [p1.concat(q1), p2.concat(q2), p3.concat(q3), p4.concat(q4),
              p5.concat(q5), p6.concat(q6), p7.concat(q7), p8.concat(q8),
              p9.concat(q9), p10.concat(q10), p11.concat(q11), p12.concat(q12)];
var smooths = [s1,s2,s3,s4,s5,s6,s7,s8,s9,s10,s11,s12];

var left = 61.7, colW = 168.9, top0 = 32, stripH = 11.3, rowH = 178.2;
var xDomain = [0.4, 12.35], yDomain = [-0.278, 1.393];
var sans = "'Liberation Sans', Arial, sans-serif";
var serif = "'Liberation Serif', 'Times New Roman', serif";
var svg = d3.select("#chart");

panels.forEach(function(pts, i) {
  var row = 2 - Math.floor(i / 4), col = i % 4;
  var x0 = left + col * colW, sy = top0 + row * rowH;
  var py0 = sy + stripH, py1 = sy + rowH;
  var x = d3.scaleLinear().domain(xDomain).range([x0, x0 + colW]);
  var y = d3.scaleLinear().domain(yDomain).range([py1, py0]);
  var g = svg.append("g");

  // strip with the shingle level
  g.append("rect").attr("x", x0).attr("y", sy).attr("width", colW).attr("height", stripH)
    .attr("fill", "#ffd08f");
  var lv = levels[i];
  g.append("rect").attr("x", x0 + lv[0] * colW).attr("y", sy)
    .attr("width", (lv[1] - lv[0]) * colW).attr("height", stripH)
    .attr("fill", "#ff7f00");
  g.append("text").attr("x", x0 + colW / 2).attr("y", sy + stripH / 2 + 3)
    .attr("text-anchor", "middle").style("font-family", sans)
    .style("font-size", "8.3px").style("fill", "#222")
    .text("ad.intervals");
  g.append("rect").attr("x", x0).attr("y", sy).attr("width", colW).attr("height", stripH)
    .attr("fill", "none").attr("stroke", "#000");

  // reference grid
  g.selectAll("line.gx").data(xTicks).enter().append("line")
    .attr("x1", d => x(d)).attr("x2", d => x(d)).attr("y1", py0).attr("y2", py1)
    .attr("stroke", "#000").attr("stroke-width", 0.9).attr("stroke-dasharray", "1,2");
  g.selectAll("line.gy").data(yTicks).enter().append("line")
    .attr("y1", d => y(d)).attr("y2", d => y(d)).attr("x1", x0).attr("x2", x0 + colW)
    .attr("stroke", "#000").attr("stroke-width", 0.9).attr("stroke-dasharray", "1,2");

  g.selectAll("circle").data(pts).enter().append("circle")
    .attr("cx", d => x(d[0])).attr("cy", d => y(d[1])).attr("r", 2.2)
    .attr("fill", "#0066cc");

  g.append("path").datum(smooths[i])
    .attr("d", d3.line().x(d => x(d[0])).y(d => y(d[1])).curve(d3.curveMonotoneX))
    .attr("fill", "none").attr("stroke", "#000").attr("stroke-width", 1.2);

  g.append("rect").attr("x", x0).attr("y", py0).attr("width", colW).attr("height", rowH - stripH)
    .attr("fill", "none").attr("stroke", "#000");

  // alternating axes, lattice style
  var fmtY = d3.format(".1f");
  if (row === 0) {
    var ax = d3.axisTop(x).tickValues(xTicks).tickSize(6).tickPadding(8);
    if (col % 2 === 0) ax.tickFormat("");
    svg.append("g").attr("transform", "translate(0," + sy + ")").call(ax)
      .call(s => s.select(".domain").remove());
  }
  if (row === 2) {
    var bx = d3.axisBottom(x).tickValues(xTicks).tickSize(6).tickPadding(8);
    if (col % 2 === 1) bx.tickFormat("");
    svg.append("g").attr("transform", "translate(0," + py1 + ")").call(bx)
      .call(s => s.select(".domain").remove());
  }
  if (col === 0) {
    var ly = d3.axisLeft(y).tickValues(yTicks).tickSize(6).tickPadding(4.5).tickFormat(fmtY);
    if (row === 1) ly.tickFormat("");
    svg.append("g").attr("transform", "translate(" + x0 + ",0)").call(ly)
      .call(s => s.select(".domain").remove());
  }
  if (col === 3) {
    var ry = d3.axisRight(y).tickValues(yTicks).tickSize(6).tickPadding(3.5).tickFormat(fmtY);
    if (row !== 1) ry.tickFormat("");
    svg.append("g").attr("transform", "translate(" + (x0 + colW) + ",0)").call(ry)
      .call(s => s.select(".domain").remove());
  }
});

// axis titles
svg.append("text").attr("x", 386).attr("y", 621.5).style("font-family", serif)
  .style("font-size", "25px").style("font-weight", "bold").text("tke");
svg.append("text").attr("x", 428).attr("y", 604).attr("text-anchor", "middle")
  .style("font-family", serif).style("font-size", "12px").text("1");
svg.append("line").attr("x1", 424.3).attr("x2", 431.7).attr("y1", 606.3).attr("y2", 606.3)
  .attr("stroke", "#000").attr("stroke-width", 1.5);
svg.append("text").attr("x", 428).attr("y", 617).attr("text-anchor", "middle")
  .style("font-family", serif).style("font-size", "12px").text("4");

var yl = svg.append("text").attr("transform", "translate(26,297) rotate(-90)")
  .attr("text-anchor", "middle").style("font-family", serif);
yl.append("tspan").style("font-size", "29px").style("font-style", "italic").text("w");
yl.append("tspan").attr("dy", 2).style("font-size", "18px").text("1");
</script>
</body>
</html>
